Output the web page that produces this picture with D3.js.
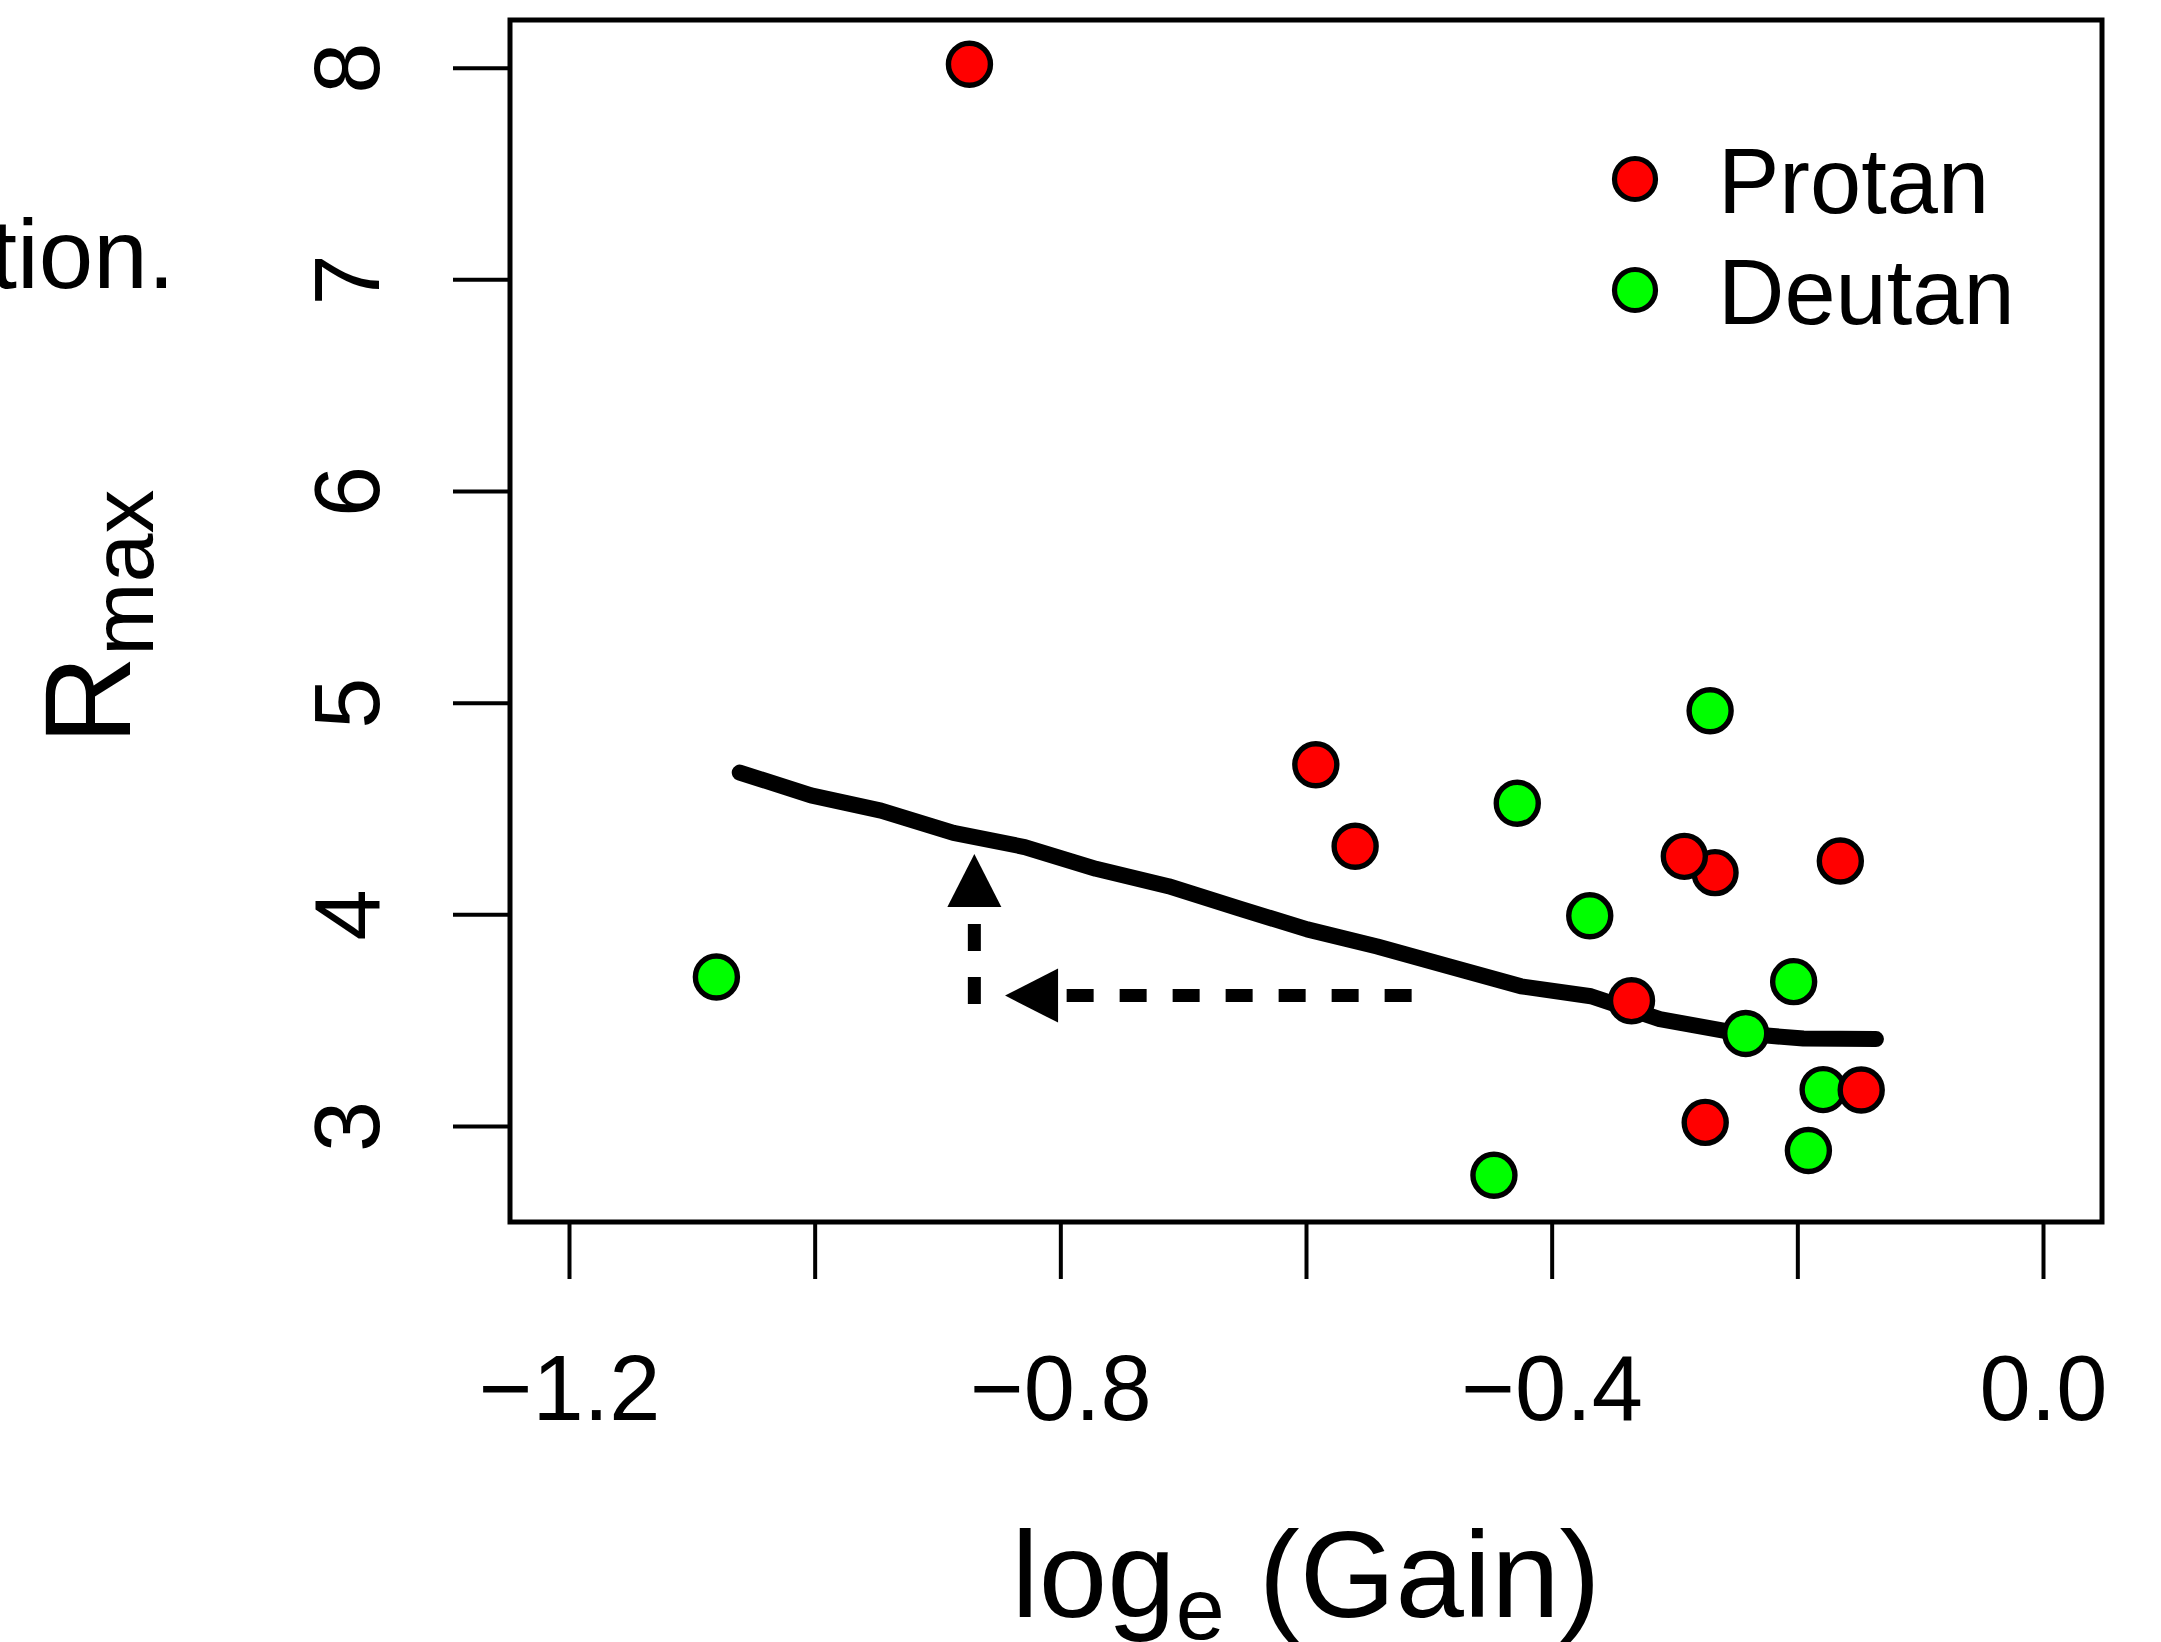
<!DOCTYPE html>
<html>
<head>
<meta charset="utf-8">
<script src="https://cdn.jsdelivr.net/npm/d3@7"></script>
<style>
  html, body { margin: 0; padding: 0; background: #ffffff; }
  svg { display: block; }
  text { font-family: "Liberation Sans", Arial, Helvetica, sans-serif; fill: #000; }
</style>
</head>
<body>
<script>
// ---------------- data ----------------
const protanX = [-0.874, -0.592, -0.560, -0.267, -0.292, -0.165, -0.335, -0.275, -0.148];
const protanY = [ 8.016,  4.707,  4.322,  4.197,  4.274,  4.252,  3.592,  3.017,  3.170];

const deutanX = [-1.080, -0.271, -0.428, -0.369, -0.203, -0.242, -0.179, -0.191, -0.447];
const deutanY = [ 3.704,  4.962,  4.525,  3.993,  3.682,  3.437,  3.172,  2.884,  2.767];

const smoothX = [-1.061, -1.003, -0.946, -0.887, -0.829, -0.771, -0.712, -0.654, -0.599, -0.542, -0.484, -0.425, -0.368, -0.312, -0.250, -0.195, -0.136];
const smoothY = [ 4.670,  4.562,  4.490,  4.385,  4.318,  4.215,  4.133,  4.027,  3.929,  3.848,  3.755,  3.660,  3.613,  3.505,  3.440,  3.413,  3.411];

// arrows: start -> end (value space)
const arrowX1 = [-0.870, -0.514];
const arrowY1 = [ 3.576,  3.616];
const arrowX2 = [-0.870, -0.845];
const arrowY2 = [ 4.285,  3.616];

const xTicks = [-1.2, -1.0, -0.8, -0.6, -0.4, -0.2, 0.0];
const xTickLabels = ["\u22121.2", "", "\u22120.8", "", "\u22120.4", "", "0.0"];
const yTicks = [3, 4, 5, 6, 7, 8];
const yTickLabels = ["3", "4", "5", "6", "7", "8"];

const seriesNames = ["Protan", "Deutan"];
const seriesColors = ["#ff0000", "#00ff00"];

// ---------------- layout ----------------
const W = 2161, H = 1642;
const box = { left: 510, right: 2102, top: 20, bottom: 1222 };

const x = d3.scaleLinear().domain([-1.2, 0]).range([569, 2043]);
const y = d3.scaleLinear().domain([3, 8]).range([1126, 67.7]);

const svg = d3.select("body").append("svg")
  .attr("width", W).attr("height", H)
  .attr("viewBox", `0 0 ${W} ${H}`);

// stray caption text from the neighbouring panel (cut at the left edge as in the source)
svg.append("text")
  .attr("x", 175).attr("y", 288)
  .attr("text-anchor", "end")
  .style("font-size", "98px")
  .text("tion.");

// axes
const xAxis = d3.axisBottom(x)
  .tickValues(xTicks)
  .tickSize(57)
  .tickFormat((d, i) => xTickLabels[i]);
const gx = svg.append("g")
  .attr("transform", `translate(0,${box.bottom})`)
  .call(xAxis);
gx.select(".domain").remove();
gx.selectAll(".tick line").attr("stroke", "#000").attr("stroke-width", 4);
gx.selectAll(".tick text")
  .attr("y", 198).attr("dy", null)
  .attr("fill", "#000")
  .style("font-size", "92px")
  .style("font-family", '"Liberation Sans", Arial, Helvetica, sans-serif');

const yAxis = d3.axisLeft(y)
  .tickValues(yTicks)
  .tickSize(57)
  .tickFormat((d, i) => yTickLabels[i]);
const gy = svg.append("g")
  .attr("transform", `translate(${box.left},0)`)
  .call(yAxis);
gy.select(".domain").remove();
gy.selectAll(".tick line").attr("stroke", "#000").attr("stroke-width", 4);
gy.selectAll(".tick text")
  .attr("x", null).attr("dy", null)
  .attr("text-anchor", "middle")
  .attr("transform", "translate(-131,0) rotate(-90)")
  .attr("fill", "#000")
  .style("font-size", "92px")
  .style("font-family", '"Liberation Sans", Arial, Helvetica, sans-serif');

// box
svg.append("rect")
  .attr("x", box.left).attr("y", box.top)
  .attr("width", box.right - box.left).attr("height", box.bottom - box.top)
  .attr("fill", "none").attr("stroke", "#000").attr("stroke-width", 5);

// smooth line
const smooth = smoothX.map((v, i) => [v, smoothY[i]]);
svg.append("path")
  .datum(smooth)
  .attr("d", d3.line().x(d => x(d[0])).y(d => y(d[1])))
  .attr("fill", "none").attr("stroke", "#000")
  .attr("stroke-width", 16)
  .attr("stroke-linecap", "round").attr("stroke-linejoin", "round");

// dashed arrows
const headLen = 53, headHalf = 27;
arrowX1.forEach((_, i) => {
  const sx = x(arrowX1[i]), sy = y(arrowY1[i]);
  const ex = x(arrowX2[i]), ey = y(arrowY2[i]);
  const len = Math.hypot(ex - sx, ey - sy);
  const ux = (ex - sx) / len, uy = (ey - sy) / len;
  const bx = ex - ux * headLen, by = ey - uy * headLen;
  svg.append("path")
    .attr("d", `M${sx},${sy}L${bx},${by}`)
    .attr("fill", "none").attr("stroke", "#000")
    .attr("stroke-width", 13)
    .attr("stroke-dasharray", "27,26")
    .attr("stroke-linecap", "butt");
  const px = -uy, py = ux;
  svg.append("path")
    .attr("d", `M${ex},${ey}L${bx + px * headHalf},${by + py * headHalf}L${bx - px * headHalf},${by - py * headHalf}Z`)
    .attr("fill", "#000").attr("stroke", "none");
});

// points: deutan first, protan on top
const deutan = deutanX.map((v, i) => [v, deutanY[i]]);
const protan = protanX.map((v, i) => [v, protanY[i]]);
svg.append("g").selectAll("circle").data(deutan).join("circle")
  .attr("cx", d => x(d[0])).attr("cy", d => y(d[1])).attr("r", 21)
  .attr("fill", seriesColors[1]).attr("stroke", "#000").attr("stroke-width", 5.4);
svg.append("g").selectAll("circle").data(protan).join("circle")
  .attr("cx", d => x(d[0])).attr("cy", d => y(d[1])).attr("r", 21)
  .attr("fill", seriesColors[0]).attr("stroke", "#000").attr("stroke-width", 5.4);

// legend
const legendY = [179, 290];
seriesNames.forEach((name, i) => {
  svg.append("circle")
    .attr("cx", 1635).attr("cy", legendY[i]).attr("r", 20.5)
    .attr("fill", seriesColors[i]).attr("stroke", "#000").attr("stroke-width", 5.2);
  svg.append("text")
    .attr("x", 1718).attr("y", legendY[i] + 34)
    .style("font-size", "92px")
    .text(name);
});

// axis titles
const xt = svg.append("text")
  .attr("transform", "translate(1306,1617)")
  .attr("text-anchor", "middle")
  .style("font-size", "123px")
  .style("white-space", "pre");
xt.append("tspan").text("log");
xt.append("tspan").attr("dy", 22).style("font-size", "88px").text("e");
xt.append("tspan").attr("dy", -22).text(" (Gain)");

const yt = svg.append("text")
  .attr("transform", "translate(130,617) rotate(-90)")
  .attr("text-anchor", "middle")
  .style("font-size", "123px");
yt.append("tspan").text("R");
yt.append("tspan").attr("dy", 23).style("font-size", "88px").text("max");
</script>
</body>
</html>
